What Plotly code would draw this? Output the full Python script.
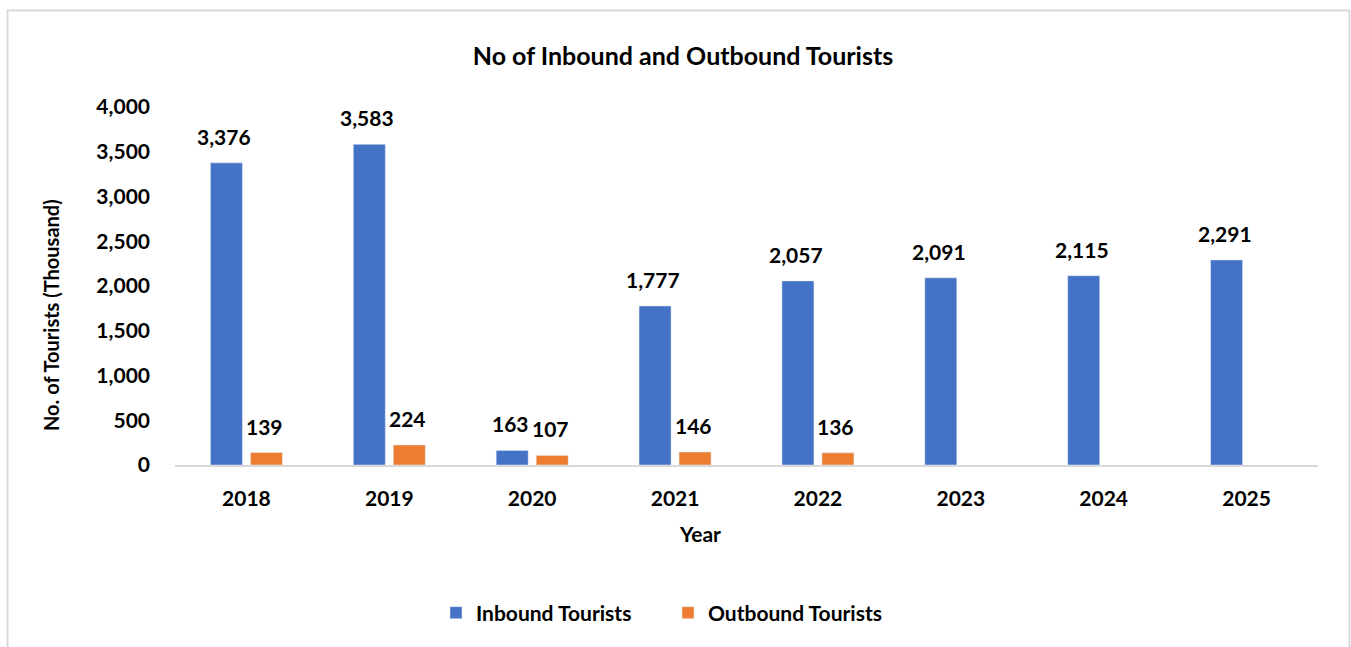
import plotly.graph_objects as go

years = ["2018", "2019", "2020", "2021", "2022", "2023", "2024", "2025"]
inbound = [3376, 3583, 163, 1777, 2057, 2091, 2115, 2291]
outbound = [139, 224, 107, 146, 136, None, None, None]
y_ticks = [0, 500, 1000, 1500, 2000, 2500, 3000, 3500, 4000]

BLUE = "#4472C4"
ORANGE = "#ED7D31"
FONT = "Lato, 'Open Sans', sans-serif"

W, H = 1351, 647
ML, MR, MT, MB = 175, 33, 107, 182
BARGAP, GROUPGAP = 0.44, 0.2

def bold(size):
    return dict(family=FONT, size=size, color="#000000", weight="bold")

fig = go.Figure()
fig.add_trace(go.Bar(name="Inbound Tourists", x=years, y=inbound,
                     marker=dict(color=BLUE), hoverinfo="skip"))
fig.add_trace(go.Bar(name="Outbound Tourists", x=years, y=outbound,
                     marker=dict(color=ORANGE), hoverinfo="skip"))

# value labels above each bar (category index positions, shifted onto each bar)
pw, ph = W - ML - MR, H - MT - MB
slot = pw / len(years)
offset = slot * (1 - BARGAP) / 4
for series, dx in ((inbound, -offset), (outbound, offset)):
    for i, v in enumerate(series):
        if v is None:
            continue
        fig.add_annotation(x=i, y=v, xref="x", yref="y", text=f"{v:,}",
                           showarrow=False, xshift=dx - 2, yanchor="bottom",
                           yshift=12, font=bold(21))

# chart-area frame
def px_x(p): return (p - ML) / pw
def px_y(p): return (H - MB - p) / ph
fig.add_shape(type="rect", xref="paper", yref="paper",
              x0=px_x(7.5), x1=px_x(1349.5), y0=px_y(700), y1=px_y(10.5),
              line=dict(color="#D9D9D9", width=2), fillcolor="rgba(0,0,0,0)",
              layer="below")

# axis titles, placed within the chart area
fig.add_annotation(text="Year", xref="paper", yref="paper",
                   x=px_x(700), y=px_y(533), showarrow=False,
                   xanchor="center", yanchor="middle", font=bold(21))
fig.add_annotation(text="No. of Tourists (Thousand)", xref="paper", yref="paper",
                   x=px_x(51), y=px_y(315), showarrow=False, textangle=-90,
                   xanchor="center", yanchor="middle", font=bold(20))

fig.update_layout(
    width=W, height=H,
    margin=dict(l=ML, r=MR, t=MT, b=MB, autoexpand=False),
    paper_bgcolor="white", plot_bgcolor="white",
    barmode="group", bargap=BARGAP, bargroupgap=GROUPGAP,
    font=dict(family=FONT, color="#000000"),
    title=dict(text="No of Inbound and Outbound Tourists",
               x=683 / W, xref="container", xanchor="center",
               y=1 - 56 / H, yref="container", yanchor="middle",
               font=bold(25)),
    legend=dict(orientation="h", x=668 / W, xref="container", xanchor="center",
                y=1 - 613 / H, yref="container", yanchor="middle",
                font=bold(21), itemwidth=30, entrywidth=187),
    showlegend=True,
)
fig.update_xaxes(type="category", range=[-0.5, len(years) - 0.5],
                 showgrid=False, showline=True,
                 linecolor="#D9D9D9", linewidth=2, ticks="",
                 tickfont=bold(21), ticklabelstandoff=14)
fig.update_yaxes(range=[0, 4000], tickvals=y_ticks, tickformat=",d",
                 showgrid=False, showline=False, zeroline=False, ticks="",
                 tickfont=bold(21), ticklabelstandoff=24)

fig.write_html("out.html")
